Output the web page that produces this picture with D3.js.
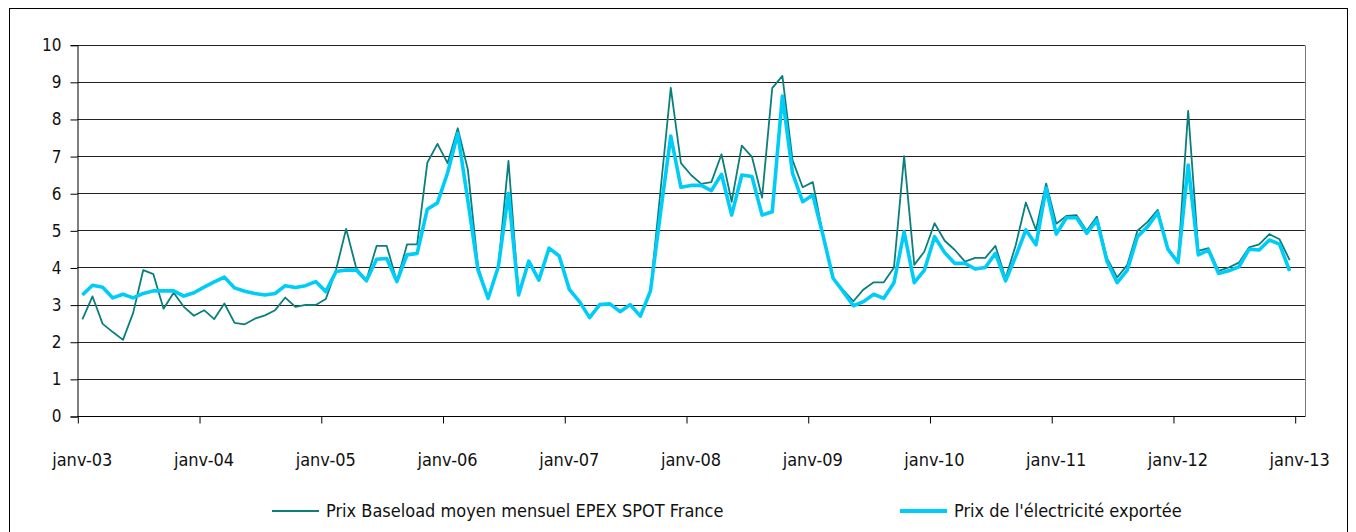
<!DOCTYPE html>
<html>
<head>
<meta charset="utf-8">
<script src="https://cdn.jsdelivr.net/npm/d3@7"></script>
<style>
  body { margin: 0; background: #fff; }
  text { font-family: 'DejaVu Sans', sans-serif; font-stretch: condensed; fill: #111; }
</style>
</head>
<body>
<script>
const width = 1356, height = 532

// janv-03 .. déc-12, one value per month (c€/kWh)
const baseload = [
  2.60, 3.22, 2.48, 2.26, 2.05, 2.77, 3.93, 3.82, 2.89, 3.32, 2.94, 2.70,
  2.85, 2.61, 3.03, 2.51, 2.47, 2.62, 2.71, 2.85, 3.19, 2.94, 2.99, 2.99,
  3.15, 3.93, 5.04, 3.98, 3.66, 4.58, 4.58, 3.62, 4.62, 4.62, 6.82, 7.33,
  6.81, 7.75, 6.63, 4.02, 3.17, 4.02, 6.87, 3.26, 4.17, 3.66, 4.52, 4.31,
  3.41, 3.08, 2.65, 3.00, 3.02, 2.81, 3.00, 2.69, 3.39, 6.10, 8.84, 6.81,
  6.49, 6.25, 6.30, 7.05, 5.77, 7.28, 6.98, 5.88, 8.83, 9.16, 6.89, 6.16,
  6.30, 4.87, 3.71, 3.39, 3.09, 3.41, 3.60, 3.60, 4.00, 7.00, 4.07, 4.43,
  5.19, 4.72, 4.47, 4.16, 4.26, 4.26, 4.58, 3.71, 4.60, 5.75, 5.01, 6.26,
  5.18, 5.39, 5.41, 4.99, 5.37, 4.25, 3.73, 4.07, 4.99, 5.23, 5.55, 4.52,
  4.16, 8.22, 4.45, 4.52, 3.91, 4.00, 4.13, 4.54, 4.62, 4.90, 4.76, 4.20
]
const export_ = [
  3.26, 3.52, 3.47, 3.18, 3.28, 3.18, 3.30, 3.37, 3.37, 3.37, 3.23, 3.32,
  3.47, 3.61, 3.74, 3.45, 3.36, 3.30, 3.26, 3.30, 3.51, 3.46, 3.51, 3.62,
  3.35, 3.89, 3.93, 3.93, 3.64, 4.22, 4.24, 3.62, 4.34, 4.38, 5.57, 5.74,
  6.55, 7.61, 5.80, 3.93, 3.17, 4.02, 6.00, 3.26, 4.17, 3.66, 4.52, 4.31,
  3.41, 3.08, 2.65, 3.00, 3.02, 2.81, 3.00, 2.69, 3.37, 5.50, 7.54, 6.16,
  6.21, 6.21, 6.07, 6.51, 5.41, 6.49, 6.45, 5.41, 5.50, 8.62, 6.54, 5.77,
  5.95, 4.87, 3.71, 3.35, 2.97, 3.08, 3.28, 3.17, 3.59, 4.96, 3.59, 3.93,
  4.83, 4.40, 4.11, 4.11, 3.96, 4.00, 4.38, 3.64, 4.30, 5.01, 4.61, 6.14,
  4.90, 5.34, 5.34, 4.92, 5.28, 4.16, 3.59, 3.93, 4.83, 5.10, 5.48, 4.49,
  4.13, 6.76, 4.34, 4.47, 3.84, 3.91, 4.02, 4.49, 4.47, 4.74, 4.63, 3.91
]
const tickLabels = ['janv-03', 'janv-04', 'janv-05', 'janv-06', 'janv-07', 'janv-08',
                    'janv-09', 'janv-10', 'janv-11', 'janv-12', 'janv-13']
const yTicks = [0, 1, 2, 3, 4, 5, 6, 7, 8, 9, 10]
const seriesNames = ['Prix Baseload moyen mensuel EPEX SPOT France', "Prix de l'électricité exportée"]

const colTeal = '#0a7f7c', colCyan = '#00ccf8'

let svg = d3.select('body').append('svg')
  .attr('width', width)
  .attr('height', height)

// outer frame
svg.append('rect')
  .attr('x', 9.5).attr('y', 8.5)
  .attr('width', 1338).attr('height', 600)
  .style('fill', 'none').style('stroke', '#000').style('stroke-width', 1)

const x = d3.scaleLinear().domain([0, 120]).range([77.3, 1294.7])
const y = d3.scaleLinear().domain([0, 10]).range([416, 44.7])

// gridlines
svg.append('g').selectAll('line').data(yTicks).enter().append('line')
  .attr('x1', x(0)).attr('x2', x(121))
  .attr('y1', d => Math.round(y(d)) + 0.5).attr('y2', d => Math.round(y(d)) + 0.5)
  .style('stroke', '#222').style('stroke-width', 1)

// right border of plot area
svg.append('line')
  .attr('x1', Math.round(x(121)) + 0.5).attr('x2', Math.round(x(121)) + 0.5)
  .attr('y1', Math.round(y(10)) + 0.5).attr('y2', Math.round(y(0)) + 0.5)
  .style('stroke', '#777').style('stroke-width', 1)

// y axis
let yAxis = d3.axisLeft(y).tickValues(yTicks).tickSize(7).tickPadding(9).tickFormat(d3.format('d'))
let gy = svg.append('g').attr('transform', `translate(${Math.round(x(0)) + 0.5}, 0.5)`).call(yAxis)
gy.select('.domain').style('stroke', '#000')
gy.selectAll('.tick line').style('stroke', '#000')
gy.selectAll('.tick text').style('font-size', '17px').style('fill', '#111')
  .style('font-family', "'DejaVu Sans', sans-serif")

// x axis
let xAxis = d3.axisBottom(x).tickValues(d3.range(0, 121, 12)).tickSize(7).tickPadding(42)
  .tickFormat((d, i) => tickLabels[i])
let gx = svg.append('g').attr('transform', `translate(0.5, ${Math.round(y(0)) + 0.5})`).call(xAxis)
gx.select('.domain').remove()
gx.append('line').attr('x1', x(0)).attr('x2', x(121)).style('stroke', '#000')
gx.selectAll('.tick line').style('stroke', '#000')
gx.selectAll('.tick text').style('font-size', '18px').style('fill', '#111')
  .attr('dx', 4).attr('dy', 0)
  .style('font-family', "'DejaVu Sans', sans-serif")

// lines
const line = d3.line().x((d, i) => x(i + 0.5)).y(d => y(d))

svg.append('path').datum(baseload)
  .attr('d', line)
  .style('fill', 'none').style('stroke', colTeal).style('stroke-width', 1.8)
  .style('stroke-linejoin', 'round')

svg.append('path').datum(export_)
  .attr('d', line)
  .style('fill', 'none').style('stroke', colCyan).style('stroke-width', 3.6)
  .style('stroke-linejoin', 'round')

// legend
const legendItems = [
  {name: seriesNames[0], color: colTeal, w: 1.8, x0: 272},
  {name: seriesNames[1], color: colCyan, w: 4, x0: 900}
]
let legend = svg.append('g').selectAll('g').data(legendItems).enter().append('g')
  .attr('transform', d => `translate(${d.x0}, 511)`)
legend.append('line')
  .attr('x1', 0).attr('x2', 47).attr('y1', 0).attr('y2', 0)
  .style('stroke', d => d.color).style('stroke-width', d => d.w)
legend.append('text')
  .attr('x', 54).attr('y', 6)
  .style('font-size', '18px')
  .text(d => d.name)
</script>
</body>
</html>
